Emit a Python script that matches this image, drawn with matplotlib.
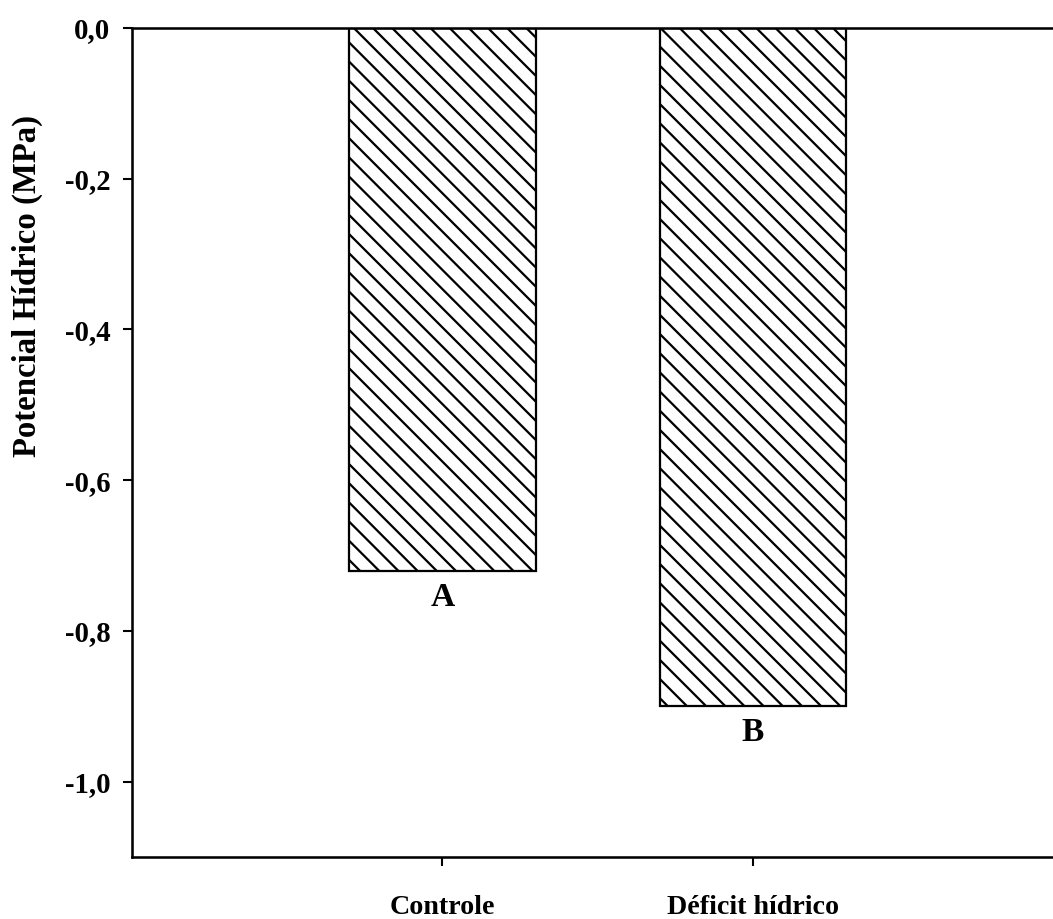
import matplotlib
matplotlib.use("Agg")
import matplotlib.pyplot as plt
from matplotlib.ticker import FuncFormatter

categories = ["Controle", "Déficit hídrico"]
values = [-0.72, -0.90]
letters = ["A", "B"]
yticks = [0.0, -0.2, -0.4, -0.6, -0.8, -1.0]

DPI = 115
plt.rcParams['font.family'] = ['Liberation Serif', 'DejaVu Serif']
plt.rcParams['font.weight'] = 'bold'
plt.rcParams['hatch.linewidth'] = 1.4
plt.rcParams['hatch.color'] = 'black'

fig = plt.figure(figsize=(1053 / DPI, 919 / DPI), dpi=DPI)
ax = fig.add_axes([132 / 1053, (919 - 857) / 919, 3 * 310.5 / 1053, (857 - 28) / 919])

x = list(range(len(categories)))
bars = ax.bar(x, values, width=0.6, color='white', edgecolor='black',
              linewidth=1.4, hatch='\\\\')

for xi, v, lab in zip(x, values, letters):
    ax.annotate(lab, (xi, v), xytext=(0, -7), textcoords='offset points',
                ha='center', va='top', fontsize=21, fontweight='bold')

ax.set_xlim(-1, 2)
ax.set_ylim(-1.1, 0)
ax.set_xticks(x)
ax.set_xticklabels(categories, fontsize=17.5, fontweight='bold')
ax.set_yticks(yticks)
ax.yaxis.set_major_formatter(FuncFormatter(lambda v, p: f"{v:.1f}".replace('.', ',').replace('-0,0', '0,0')))
for t in ax.get_yticklabels():
    t.set_fontsize(18)
    t.set_fontweight('bold')

ax.tick_params(axis='both', direction='out', length=5.5, width=1.3)
ax.tick_params(axis='y', pad=8)
ax.tick_params(axis='x', pad=18)

for s in ['left', 'bottom', 'top']:
    ax.spines[s].set_linewidth(1.6)
ax.spines['right'].set_visible(False)

ax.set_ylabel("Potencial Hídrico (MPa)", fontsize=20.5, fontweight='bold')
ax.yaxis.set_label_coords(-0.096, (857 - 286) / 829)

fig.savefig("out.png", dpi=DPI)
